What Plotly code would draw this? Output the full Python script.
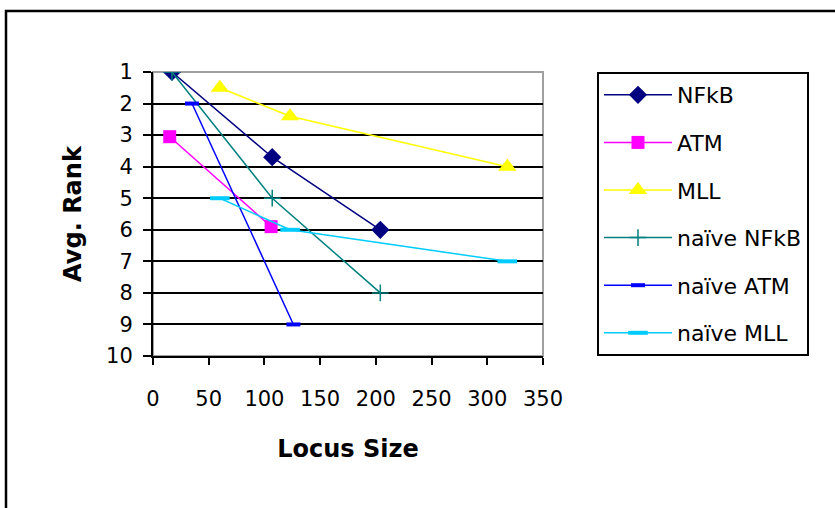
import plotly.graph_objects as go

# Data
nfkb_x = [17, 107, 204]
nfkb_y = [1, 3.7, 6]
atm_x = [15, 106]
atm_y = [3.05, 5.9]
mll_x = [60, 123, 318]
mll_y = [1.5, 2.4, 4]
naive_nfkb_x = [17, 107, 204]
naive_nfkb_y = [1, 5, 8]
naive_atm_x = [35, 126]
naive_atm_y = [2, 9]
naive_mll_x = [60, 123, 318]
naive_mll_y = [5, 6, 7]

x_ticks = [0, 50, 100, 150, 200, 250, 300, 350]
y_ticks = [1, 2, 3, 4, 5, 6, 7, 8, 9, 10]

W, H = 835, 508
L, R, T, B = 153, 292, 72, 152
PW, PH = W - L - R, H - T - B

FONT = "DejaVu Sans, Liberation Sans, Arial, sans-serif"

fig = go.Figure()

def add(name, xs, ys, color, symbol, size, mline=0, grp=""):
    fig.add_trace(go.Scatter(
        x=xs, y=ys, name=name, mode="lines+markers",
        line=dict(color=color, width=1.5),
        marker=dict(symbol=symbol, size=size, color=color,
                    line=dict(color=color, width=mline)),
        legendgroup=grp,
    ))

add("NFkB", nfkb_x, nfkb_y, "#000080", "diamond", 14, 0, "a")
add("ATM", atm_x, atm_y, "#FF00FF", "square", 13, 0, "b")
add("MLL", mll_x, mll_y, "#FFFF00", "triangle-up", 16, 0, "c")
add("naïve NFkB", naive_nfkb_x, naive_nfkb_y, "#008080", "cross-thin", 12, 1.5, "d")
add("naïve ATM", naive_atm_x, naive_atm_y, "#0000FF", "line-ew", 10, 4, "e")
add("naïve MLL", naive_mll_x, naive_mll_y, "#00CCFF", "line-ew", 14, 4, "f")

def px_x(p):
    return (p - L) / PW

def px_y(p):
    return (H - B - p) / PH

fig.update_layout(
    width=W, height=H,
    margin=dict(l=L, r=R, t=T, b=B, pad=0),
    paper_bgcolor="white", plot_bgcolor="white",
    font=dict(family=FONT, size=21, color="black"),
    showlegend=True,
    legend=dict(
        x=px_x(597), y=1, xanchor="left", yanchor="top",
        bordercolor="black", borderwidth=2, bgcolor="white",
        font=dict(family=FONT, size=22, color="black"),
        tracegroupgap=16, itemwidth=68, traceorder="grouped",
    ),
    xaxis=dict(
        range=[0, 350], tickvals=x_ticks, ticktext=[str(v) for v in x_ticks],
        showgrid=False, zeroline=False,
        showline=True, linecolor="black", linewidth=2,
        ticks="outside", ticklen=7, tickwidth=2, tickcolor="black",
        ticklabelstandoff=16,
        title=dict(text="<b>Locus Size</b>", font=dict(family=FONT, size=24), standoff=30),
    ),
    yaxis=dict(
        range=[10, 1], tickvals=y_ticks, ticktext=[str(v) for v in y_ticks],
        showgrid=True, gridcolor="black", gridwidth=2, zeroline=False,
        showline=True, linecolor="black", linewidth=2,
        ticks="outside", ticklen=8, tickwidth=2, tickcolor="black",
        ticklabelstandoff=6,
        title=dict(text="<b>Avg. Rank</b>", font=dict(family=FONT, size=24), standoff=18),
    ),
    shapes=[
        dict(type="rect", xref="paper", yref="paper", x0=0, x1=1, y0=0, y1=1,
             line=dict(color="#A0A0A0", width=2), layer="between"),
        dict(type="rect", xref="paper", yref="paper",
             x0=px_x(6), x1=px_x(850), y0=px_y(11), y1=px_y(520),
             line=dict(color="black", width=2.5), layer="below"),
    ],
)

fig.write_html("out.html")
